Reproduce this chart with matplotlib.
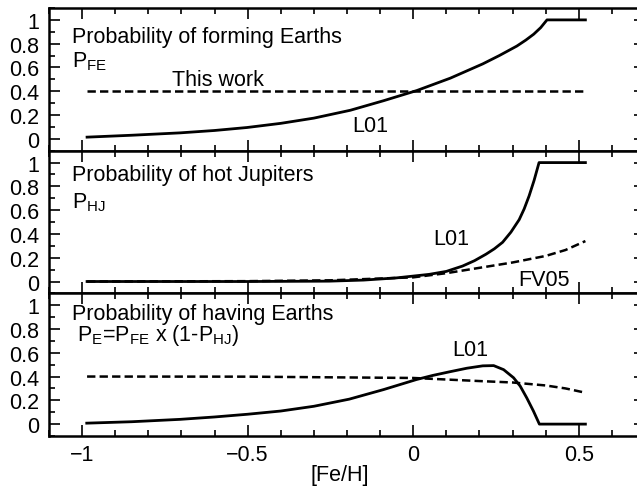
import matplotlib
matplotlib.use("Agg")
import matplotlib.pyplot as plt
from matplotlib.ticker import MultipleLocator, FixedLocator

plt.rcParams['font.family'] = ['Liberation Sans', 'DejaVu Sans']
plt.rcParams['mathtext.fontset'] = 'custom'
plt.rcParams['mathtext.rm'] = 'Liberation Sans'
plt.rcParams['mathtext.it'] = 'Liberation Sans:italic'
plt.rcParams['lines.scale_dashes'] = False

# ---- data ----
# Panel 1: probability of forming Earths
pfe_x = [-0.985, -0.85, -0.704, -0.6, -0.502, -0.4, -0.30, -0.19, -0.09,
         0.011, 0.112, 0.21, 0.26, 0.313, 0.34, 0.364, 0.385, 0.404, 0.52]
pfe_y = [0.014, 0.03, 0.05, 0.07, 0.095, 0.13, 0.174, 0.24, 0.32,
         0.406, 0.51, 0.63, 0.70, 0.78, 0.83, 0.88, 0.935, 1.0, 1.0]
thiswork_x = [-0.985, 0.52]
thiswork_y = [0.4, 0.4]

# Panel 2: probability of hot Jupiters
phj_x = [-0.985, -0.75, -0.5, -0.254, -0.15, -0.052, 0.048, 0.10, 0.149,
         0.185, 0.22, 0.245, 0.27, 0.295, 0.32, 0.335, 0.35, 0.365, 0.38, 0.52]
phj_y = [0.0, 0.0, 0.0, 0.003, 0.012, 0.03, 0.06, 0.085, 0.13,
         0.175, 0.23, 0.275, 0.33, 0.415, 0.52, 0.61, 0.72, 0.85, 1.0, 1.0]
fv05_x = [-0.985, -0.5, -0.25, 0.0, 0.10, 0.2, 0.3, 0.4, 0.46, 0.52]
fv05_y = [0.0, 0.003, 0.01, 0.035, 0.07, 0.115, 0.16, 0.215, 0.265, 0.34]

# Panel 3: probability of having Earths
pe_x = [-0.986, -0.85, -0.704, -0.6, -0.5, -0.4, -0.30, -0.193, -0.09,
        0.01, 0.06, 0.11, 0.162, 0.21, 0.243, 0.273, 0.303, 0.323, 0.343,
        0.363, 0.381, 0.52]
pe_y = [0.008, 0.02, 0.04, 0.06, 0.083, 0.11, 0.15, 0.21, 0.29,
        0.375, 0.41, 0.44, 0.47, 0.49, 0.492, 0.458, 0.39, 0.32, 0.22,
        0.11, 0.0, 0.0]
pe_tw_x = [-0.985, -0.5, 0.0, 0.1, 0.2, 0.3, 0.4, 0.46, 0.52]
pe_tw_y = [0.4, 0.399, 0.388, 0.375, 0.362, 0.35, 0.325, 0.30, 0.264]

ytick_vals = [0, 0.2, 0.4, 0.6, 0.8, 1]
ytick_labels = ['0', '0.2', '0.4', '0.6', '0.8', '1']
xtick_vals = [-1, -0.5, 0, 0.5]
xtick_labels = ['\u22121', '\u22120.5', '0', '0.5']

W, H = 637, 489
fig = plt.figure(figsize=(W / 100, H / 100), dpi=100)

left_px, right_px = 49, 645
tops = [9, 151.7, 294.3]
ph = 142.7

axes = []
for t in tops:
    ax = fig.add_axes([left_px / W, 1 - (t + ph) / H, (right_px - left_px) / W, ph / H])
    axes.append(ax)

lw_s = 2.0
lw_d = 1.8
dash = (0, (6, 3))

axes[0].plot(pfe_x, pfe_y, color='black', lw=lw_s, solid_joinstyle='round')
axes[0].plot(thiswork_x, thiswork_y, color='black', lw=lw_d, linestyle=dash)
axes[1].plot(phj_x, phj_y, color='black', lw=lw_s, solid_joinstyle='round')
axes[1].plot(fv05_x, fv05_y, color='black', lw=lw_d, linestyle=dash)
axes[2].plot(pe_x, pe_y, color='black', lw=lw_s, solid_joinstyle='round')
axes[2].plot(pe_tw_x, pe_tw_y, color='black', lw=lw_d, linestyle=dash)

fs = 15.5
for i, ax in enumerate(axes):
    ax.set_xlim(-1.1, 0.7)
    ax.set_ylim(-0.1, 1.1)
    for s in ax.spines.values():
        s.set_linewidth(1.8)
    ax.yaxis.set_major_locator(FixedLocator(ytick_vals))
    ax.set_yticklabels(ytick_labels)
    ax.yaxis.set_minor_locator(MultipleLocator(0.1))
    ax.xaxis.set_major_locator(FixedLocator(xtick_vals))
    ax.xaxis.set_minor_locator(MultipleLocator(0.1))
    ax.tick_params(which='both', direction='in', top=True, right=True,
                   width=1.2, labelsize=fs, pad=7)
    ax.tick_params(which='major', length=8)
    ax.tick_params(which='minor', length=4)
    if i < 2:
        ax.tick_params(labelbottom=False)
    else:
        ax.set_xticklabels(xtick_labels)
        ax.tick_params(axis='x', pad=6)

tk = dict(fontsize=fs, color='black', va='center', ha='left')
a = axes[0]
a.text(-1.03, 0.857, 'Probability of forming Earths', **tk)
a.text(-1.03, 0.655, r'P$_{\mathrm{FE}}$', **tk)
a.text(-0.728, 0.50, 'This work', **tk)
a.text(-0.184, 0.113, 'L01', **tk)

a = axes[1]
a.text(-1.03, 0.897, 'Probability of hot Jupiters', **tk)
a.text(-1.03, 0.675, r'P$_{\mathrm{HJ}}$', **tk)
a.text(0.060, 0.363, 'L01', **tk)
a.text(0.317, 0.017, 'FV05', **tk)

a = axes[2]
a.text(-1.03, 0.93, 'Probability of having Earths', **tk)
a.text(-1.015, 0.75, r'P$_{\mathrm{E}}$=P$_{\mathrm{FE}}$ x (1-P$_{\mathrm{HJ}}$)', **tk)
a.text(0.118, 0.63, 'L01', **tk)
a.set_xlabel('[Fe/H]', fontsize=fs)
a.xaxis.label.set_va('center')
a.xaxis.set_label_coords((340 - left_px) / (right_px - left_px), -(476 - 437) / ph)

fig.savefig('out.png', dpi=100)
